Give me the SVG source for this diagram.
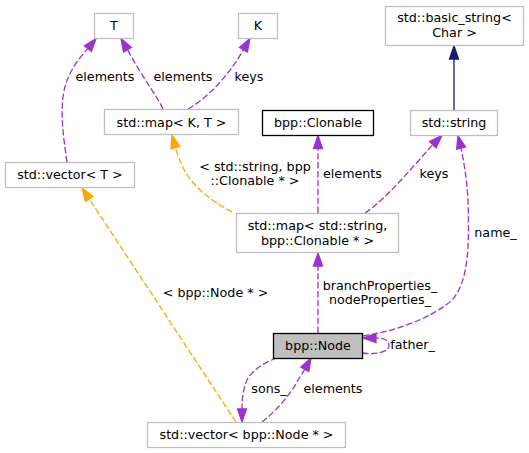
<svg xmlns="http://www.w3.org/2000/svg" width="529" height="453" viewBox="0 0 529 453">
<style>
text{font-family:"DejaVu Sans","Liberation Sans",sans-serif;font-size:12.7px;fill:#000;text-anchor:middle}
.n{fill:#fff;stroke:#bfbfbf;stroke-width:1.3}
.d{fill:#fff;stroke:#000;stroke-width:1.3}
.e{fill:none;stroke:#9a32cd;stroke-width:1.3;stroke-dasharray:6.4,2.5}
.ea{fill:#9a32cd;stroke:#9a32cd;stroke-width:1.3}
.o{fill:none;stroke:#ffa500;stroke-width:1.3;stroke-dasharray:6.4,2.5}
.oa{fill:#ffa500;stroke:#ffa500;stroke-width:1.3}
.i{fill:none;stroke:#191970;stroke-width:1.3}
.ia{fill:#191970;stroke:#191970;stroke-width:1.3}
</style>
<g id="edges">
<path class="e" d="M67,162 C63,135 58,100 68,78 C72,68 80,57 87.9,48.6"/>
<polygon class="ea" points="96,38.5 91.4,51.4 84.4,45.8"/>
<text x="105" y="81">elements</text>
<path class="e" d="M163,109 C157,96 142,77 127.5,49.7"/>
<polygon class="ea" points="121,38.5 131.4,47.45 123.6,51.95"/>
<text x="183" y="81">elements</text>
<path class="e" d="M188,109 C205,100 228,77 243.4,49.7"/>
<polygon class="ea" points="250,38.5 247.3,52 239.5,47.4"/>
<text x="249" y="81">keys</text>
<path class="o" d="M232,212 C210,200 190,185 182,165 C179,159 177,153 175.4,147.6"/>
<polygon class="oa" points="172,135 179.8,146.4 171,148.8"/>
<text x="255" y="171">&lt; std::string, bpp</text>
<text x="255" y="185">::Clonable * &gt;</text>
<path class="e" d="M318,213 L318,148.5"/>
<polygon class="ea" points="318,135.5 322.5,148.5 313.5,148.5"/>
<text x="352.5" y="178">elements</text>
<path class="e" d="M365,213 C385,200 410,170 432.8,144.7"/>
<polygon class="ea" points="442,135.5 436,147.9 429.6,141.5"/>
<text x="434" y="178">keys</text>
<path class="i" d="M454,110 L454,59"/>
<polygon class="ia" points="454,46 458.5,59 449.5,59"/>
<path class="e" d="M363,336 C390,332 430,320 452,300 C470,280 469,240 468,200 C467,180 464,163 461.1,148.1"/>
<polygon class="ea" points="458,135.5 465.5,147 456.7,149.2"/>
<text x="495.5" y="237">name_</text>
<path class="e" d="M362,353 C376,355 389,352 389,345.5 C389,340 384,338 376,338"/>
<polygon class="ea" points="363,338 376,333.5 376,342.5"/>
<text x="412.5" y="349">father_</text>
<path class="e" d="M318,333 L318,266"/>
<polygon class="ea" points="318,253 322.5,266 313.5,266"/>
<text x="380" y="290">branchProperties_</text>
<text x="380" y="304">nodeProperties_</text>
<path class="e" d="M262,422 C275,412 290,395 297,382 C299,378 302,374 304.8,369.4"/>
<polygon class="ea" points="311,358 308.8,371.6 300.8,367.2"/>
<text x="333" y="393">elements</text>
<path class="e" d="M277,358 C265,362 252,370 247,380 C243,390 242,398 242,409"/>
<polygon class="ea" points="242,422 237.5,409 246.5,409"/>
<text x="269" y="393">sons_</text>
<path class="o" d="M236,422 L89.2,198.9"/>
<polygon class="oa" points="82,188 93,196.4 85.4,201.4"/>
<text x="215.5" y="297">&lt; bpp::Node * &gt;</text>
</g>
<g id="node-T"><rect class="n" x="94.5" y="13.5" width="39" height="25"/><text x="114" y="30">T</text></g>
<g id="node-K"><rect class="n" x="238.5" y="13.5" width="39" height="25"/><text x="258" y="30">K</text></g>
<g id="node-mapKT"><rect class="n" x="104.5" y="109.5" width="134" height="25"/><text x="171.5" y="126.5">std::map&lt; K, T &gt;</text></g>
<g id="node-vectorT"><rect class="n" x="5.5" y="162.5" width="129" height="25"/><text x="70" y="179">std::vector&lt; T &gt;</text></g>
<g id="node-Clonable"><rect class="d" x="262.5" y="110.5" width="111" height="25"/><text x="318" y="127">bpp::Clonable</text></g>
<g id="node-string"><rect class="n" x="410.5" y="110.5" width="87" height="25"/><text x="454" y="127">std::string</text></g>
<g id="node-basic_string"><rect class="n" x="385.5" y="6.5" width="138" height="39"/><text x="454.5" y="21.5">std::basic_string&lt;</text><text x="454.5" y="36.5">Char &gt;</text></g>
<g id="node-mapStringClonable"><rect class="n" x="236.5" y="213.5" width="162" height="39"/><text x="317.5" y="230">std::map&lt; std::string,</text><text x="317.5" y="245">bpp::Clonable * &gt;</text></g>
<g id="node-Node"><rect x="273.5" y="333.5" width="89" height="25" fill="#bfbfbf" stroke="#000" stroke-width="1.3"/><text x="318" y="350">bpp::Node</text></g>
<g id="node-vectorNode"><rect class="n" x="147.5" y="422.5" width="198" height="25"/><text x="246.5" y="439">std::vector&lt; bpp::Node * &gt;</text></g>
</svg>
